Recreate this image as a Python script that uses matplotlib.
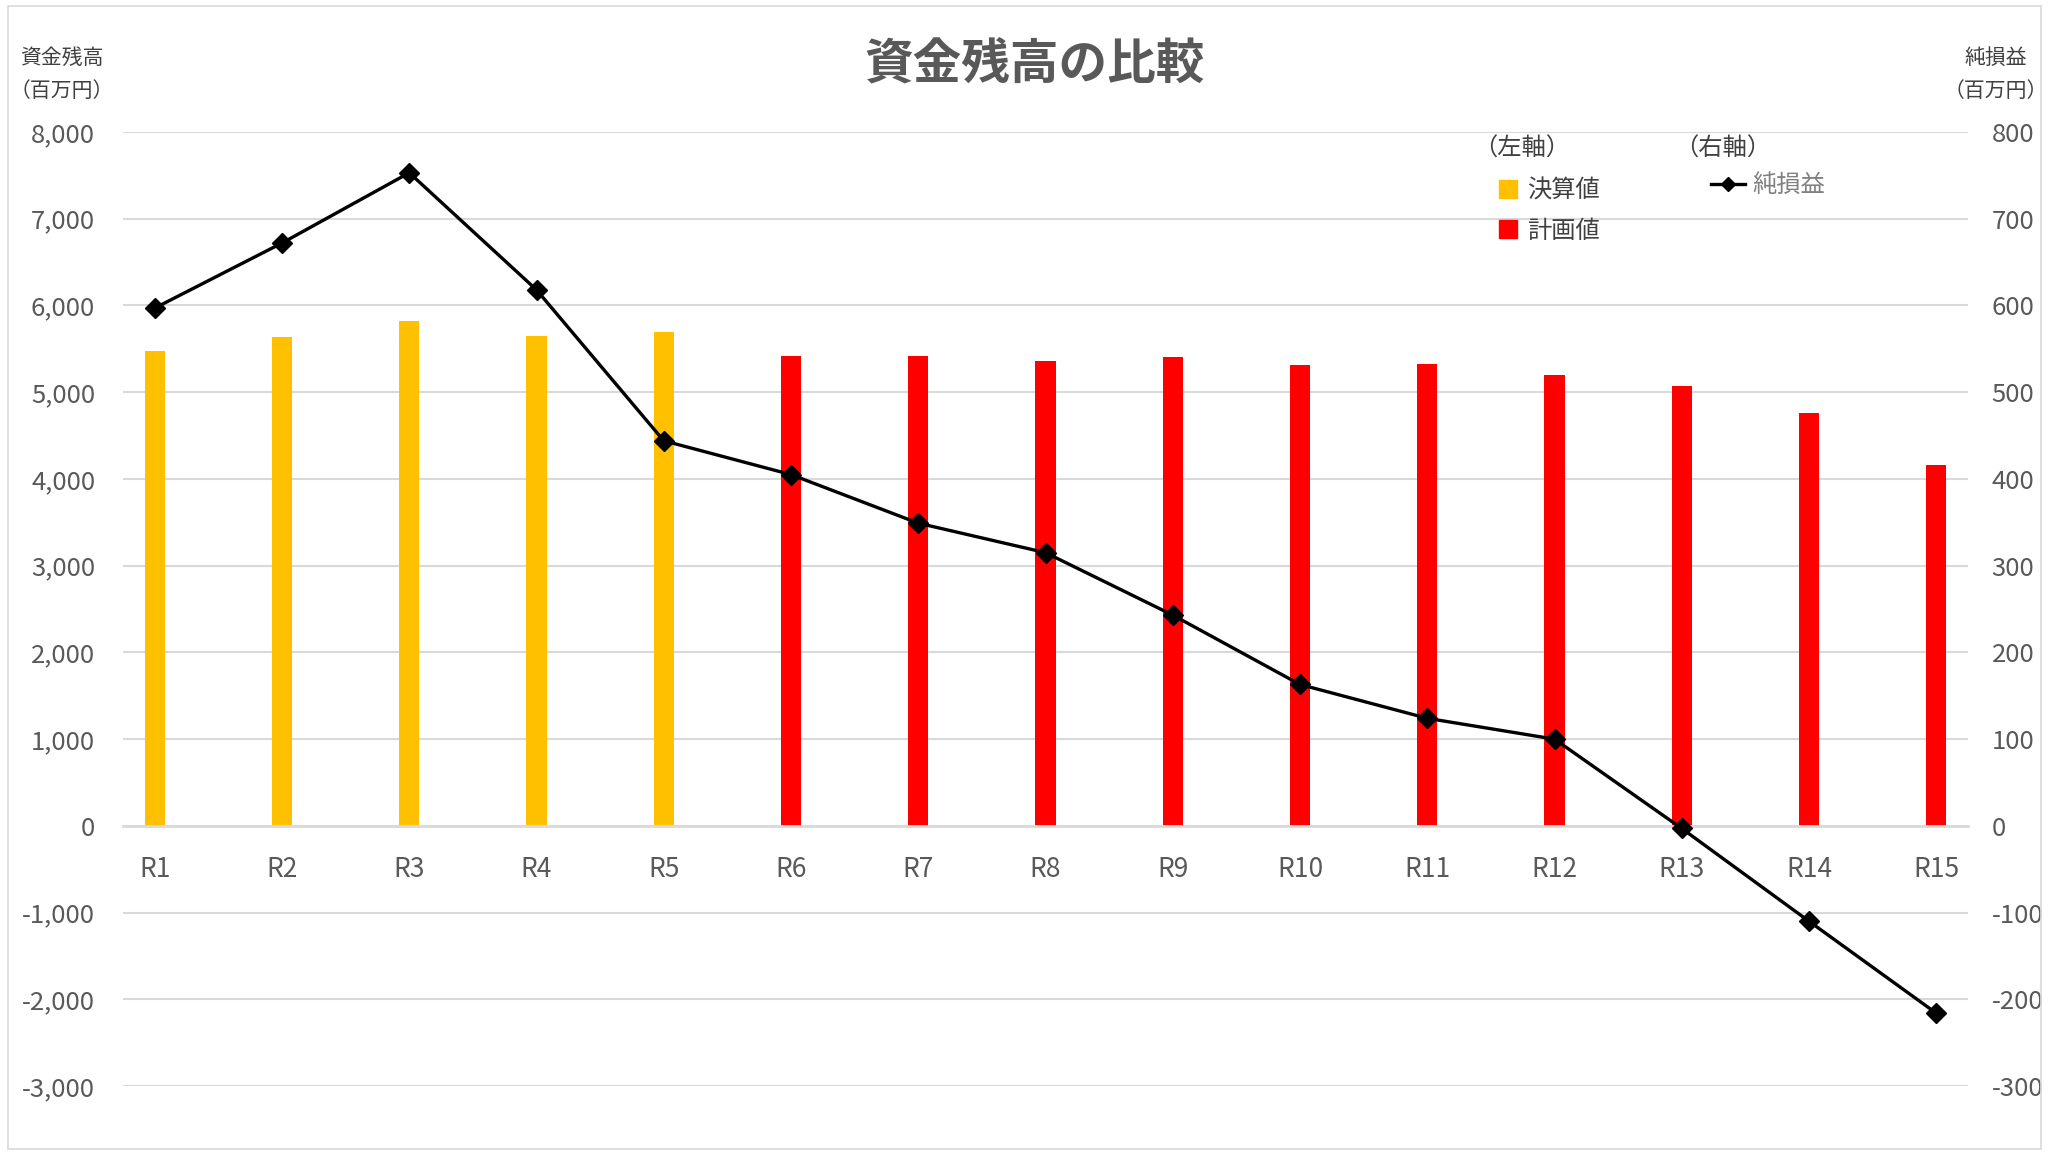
import matplotlib.pyplot as plt
from matplotlib.patches import Patch, Rectangle
from matplotlib.lines import Line2D
from matplotlib.ticker import FuncFormatter

plt.rcParams['font.family'] = ['Noto Sans CJK JP', 'DejaVu Sans']

# data
years = ['R1', 'R2', 'R3', 'R4', 'R5', 'R6', 'R7', 'R8', 'R9', 'R10',
         'R11', 'R12', 'R13', 'R14', 'R15']
balance = [5473, 5635, 5819, 5646, 5692, 5415, 5415, 5365, 5404, 5308,
           5327, 5196, 5069, 4762, 4158]
is_actual = [True] * 5 + [False] * 10
net_income = [597, 672, 753, 618, 444, 405, 349, 315, 243, 163,
              124, 100, -3, -110, -216]

c_actual = '#FFC000'
c_plan = '#FF0000'
grid_c = '#D9D9D9'
txt_c = '#595959'
lab_c = '#404040'

fig = plt.figure(figsize=(20.49, 11.55), dpi=100)
ax = fig.add_axes([0.060, 0.0597, 0.9005, 0.826])

x = list(range(len(years)))
colors = [c_actual if a else c_plan for a in is_actual]
ax.bar(x, balance, width=0.16, color=colors, zorder=2)

fmt = FuncFormatter(lambda v, p: f'{v:,.0f}')
ax.set_ylim(-3000, 8000)
ax.set_xlim(-0.25, 14.25)
ax.set_yticks(range(-3000, 8001, 1000))
ax.yaxis.set_major_formatter(fmt)
ax.grid(axis='y', color=grid_c, linewidth=1.5, zorder=0)
for s in ['top', 'right', 'left']:
    ax.spines[s].set_visible(False)
ax.spines['bottom'].set_position(('data', 0))
ax.spines['bottom'].set_color(grid_c)
ax.spines['bottom'].set_linewidth(2)
ax.set_xticks(x)
ax.set_xticklabels(years)
ax.tick_params(axis='x', length=0, pad=22, labelsize=19, labelcolor=txt_c)
ax.tick_params(axis='y', length=0, pad=20, labelsize=18.5, labelcolor=txt_c)

ax2 = ax.twinx()
ax2.plot(x, net_income, color='black', linewidth=2.4, marker='D',
         markersize=10, zorder=3)
ax2.set_ylim(-300, 800)
ax2.set_yticks(range(-300, 801, 100))
ax2.yaxis.set_major_formatter(fmt)
for s in ax2.spines.values():
    s.set_visible(False)
ax2.tick_params(axis='y', length=0, pad=17, labelsize=18.5, labelcolor=txt_c)

# title and axis captions
fig.text(0.505, 0.945, '資金残高の比較', ha='center', va='center',
         fontsize=35, fontweight='bold', color=txt_c)
fig.text(0.030, 0.950, '資金残高', ha='center', va='center', fontsize=15, color=lab_c)
fig.text(0.030, 0.921, '（百万円）', ha='center', va='center', fontsize=15, color=lab_c)
fig.text(0.974, 0.950, '純損益', ha='center', va='center', fontsize=15, color=lab_c)
fig.text(0.974, 0.921, '（百万円）', ha='center', va='center', fontsize=15, color=lab_c)

# legends
fig.text(0.719, 0.871, '（左軸）', ha='left', va='center', fontsize=17.5, color=lab_c)
fig.text(0.817, 0.871, '（右軸）', ha='left', va='center', fontsize=17.5, color=lab_c)

h_left = [Patch(color=c_actual), Patch(color=c_plan)]
leg1 = fig.legend(h_left, ['決算値', '計画値'], frameon=False,
                  loc='upper left', bbox_to_anchor=(0.7316, 0.8465), fontsize=17.5,
                  borderpad=0, borderaxespad=0, handlelength=0.75,
                  handleheight=0.75, handletextpad=0.4, labelspacing=0.6)
for t in leg1.get_texts():
    t.set_color(lab_c)

h_right = [Line2D([], [], color='black', linewidth=2.4, marker='D', markersize=7)]
leg2 = fig.legend(h_right, ['純損益'], frameon=False,
                  loc='upper left', bbox_to_anchor=(0.835, 0.851), fontsize=17.5,
                  borderpad=0, borderaxespad=0, handlelength=1.4, handletextpad=0.3)
for t in leg2.get_texts():
    t.set_color('#808080')

fig.patches.append(Rectangle((0.004, 0.005), 0.992, 0.99, transform=fig.transFigure,
                             fill=False, edgecolor=grid_c, linewidth=1.2))

fig.savefig('out.png', dpi=100, facecolor='white')
